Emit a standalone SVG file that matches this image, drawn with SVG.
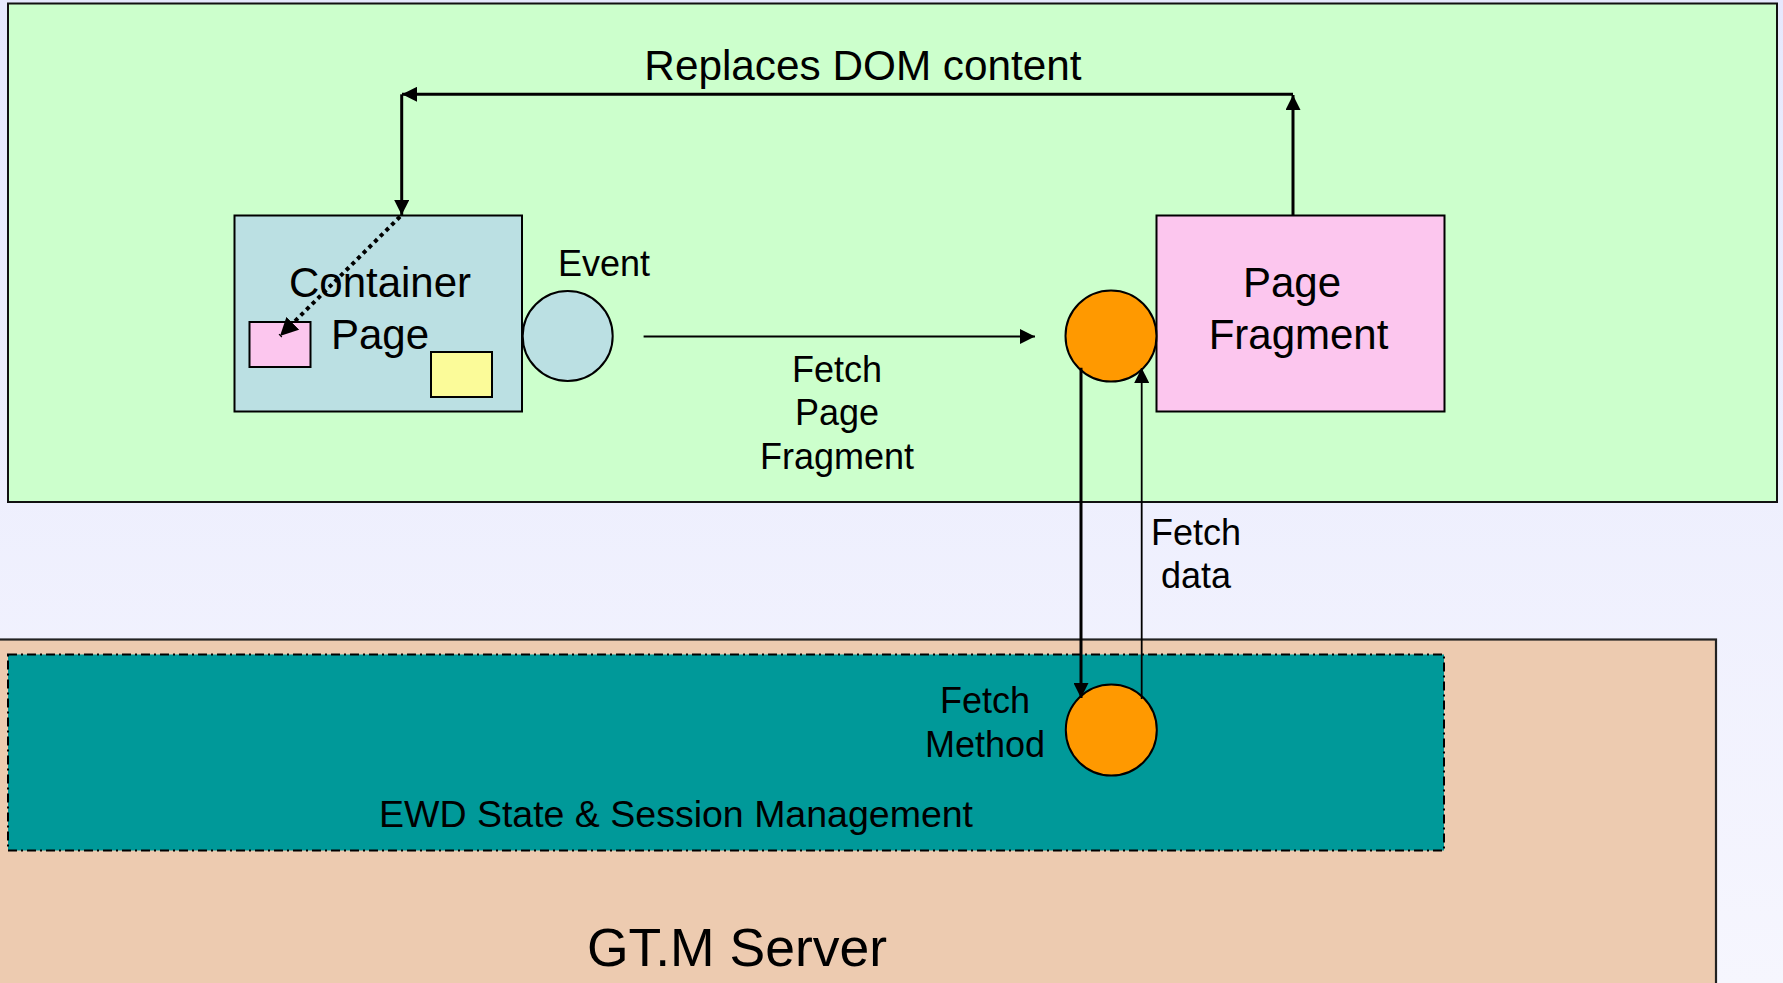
<svg xmlns="http://www.w3.org/2000/svg" width="1783" height="983" viewBox="0 0 1783 983">
<defs>
<linearGradient id="bg" x1="0" y1="0" x2="0" y2="1">
<stop offset="0" stop-color="#E6E8FD"/>
<stop offset="1" stop-color="#F6F6FE"/>
</linearGradient>
<marker id="ah" viewBox="0 0 15 15" refX="15" refY="7.5" markerWidth="15" markerHeight="15" markerUnits="userSpaceOnUse" orient="auto">
<path d="M0,0 L15,7.5 L0,15 z" fill="#000"/>
</marker>
<marker id="ah2" viewBox="0 0 18 18" refX="18" refY="9" markerWidth="18" markerHeight="18" markerUnits="userSpaceOnUse" orient="auto">
<path d="M0,0 L18,9 L0,18 z" fill="#000"/>
</marker>
</defs>
<style>
text{font-family:"Liberation Sans",Arial,sans-serif;fill:#000;text-anchor:middle}
.box{stroke:#000;stroke-width:2}
.c{stroke:#000;fill:none}
.thick{stroke-width:3}
.thin{stroke-width:1.8}
.dots{stroke-width:4;stroke-dasharray:4 4}
</style>
<rect x="0" y="0" width="1783" height="983" fill="url(#bg)"/>
<g id="browser">
<rect x="8" y="3.5" width="1769" height="498.5" fill="#CCFFCC" stroke="#111" stroke-width="2"/>
</g>
<g id="server">
<rect x="-3" y="639.5" width="1719" height="360" fill="#EDCBB0" stroke="#222" stroke-width="2.2"/>
<text x="737" y="966" font-size="53.5">GT.M Server</text>
</g>
<g id="ewd">
<rect x="8" y="654.5" width="1436" height="196" fill="#009999" stroke="#000" stroke-width="2" stroke-dasharray="9 4 2 4"/>
<text x="676" y="827" font-size="37.5">EWD State &amp; Session Management</text>
</g>
<g id="container-page">
<rect class="box" x="234.5" y="215.5" width="287.5" height="196" fill="#BBE0E3"/>
<rect class="box" x="249.5" y="322" width="61" height="45" fill="#FCC6EE"/>
<rect class="box" x="431" y="352" width="61" height="45" fill="#FBFB99"/>
<text x="380" y="297" font-size="42">Container</text>
<text x="380" y="349" font-size="42">Page</text>
</g>
<g id="event">
<circle class="box" cx="567.7" cy="336" r="45" fill="#BBE0E3"/>
<text x="604" y="276" font-size="36">Event</text>
</g>
<g id="page-fragment">
<rect class="box" x="1156.5" y="215.5" width="288" height="196" fill="#FCC6EE"/>
<text x="1292" y="297" font-size="42">Page</text>
<text x="1298.5" y="349" font-size="42">Fragment</text>
</g>
<g id="fetch-client">
<circle class="box" cx="1111" cy="336" r="45.5" fill="#FF9900"/>
</g>
<g id="fetch-method">
<circle class="box" cx="1111.3" cy="730" r="45.5" fill="#FF9900"/>
<text x="985" y="713" font-size="36">Fetch</text>
<text x="985" y="757" font-size="36">Method</text>
</g>
<g id="connectors">
<path class="c thick" d="M1293,215 V95" marker-end="url(#ah)"/>
<path class="c thick" d="M1293,94.3 H402" marker-end="url(#ah)"/>
<path class="c thick" d="M401.7,94.3 V215" marker-end="url(#ah)"/>
<path class="c dots" d="M400,216.7 L280,336" marker-end="url(#ah2)"/>
<path class="c thin" d="M643.6,336.5 H1035" marker-end="url(#ah)"/>
<path class="c thick" d="M1081,367.7 V698" marker-end="url(#ah)"/>
<path class="c thin" d="M1141.7,699 V368" marker-end="url(#ah)"/>
<text x="863" y="80" font-size="42.3">Replaces DOM content</text>
<text x="837" y="381.5" font-size="36">Fetch</text>
<text x="837" y="425" font-size="36">Page</text>
<text x="837" y="468.5" font-size="36">Fragment</text>
<text x="1196" y="545" font-size="36">Fetch</text>
<text x="1196" y="588" font-size="36">data</text>
</g>
</svg>
